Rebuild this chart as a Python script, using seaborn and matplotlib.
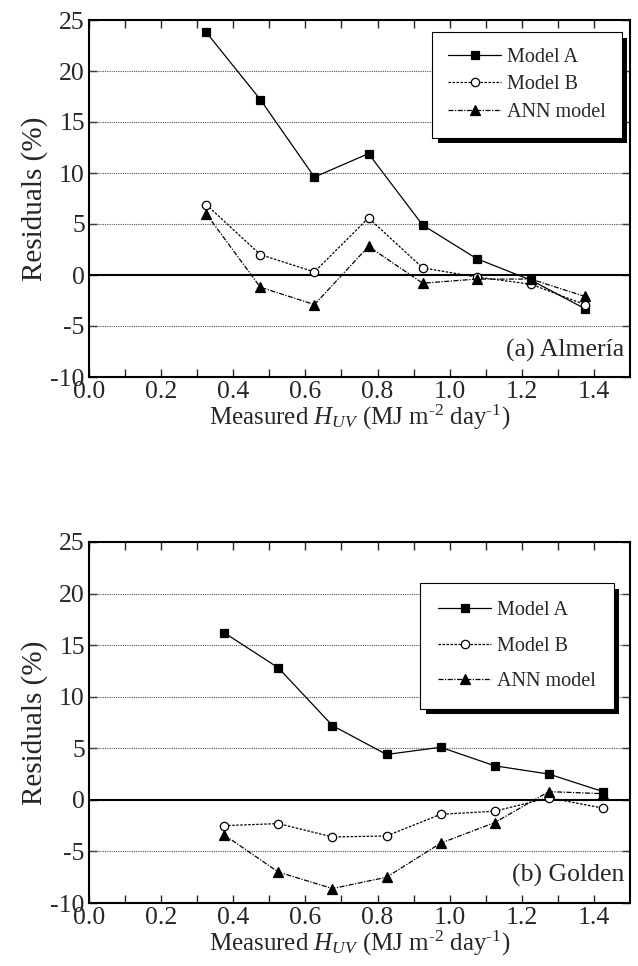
import numpy as np
import pandas as pd
import matplotlib
matplotlib.use("Agg")
import matplotlib.pyplot as plt
import matplotlib.patheffects as pe
import seaborn as sns

# residuals
x_almeria = [0.325, 0.475, 0.625, 0.775, 0.925, 1.075, 1.225, 1.375]
almeria_a = [23.8, 17.2, 9.6, 11.9, 4.9, 1.6, -0.5, -3.3]
almeria_b = [6.9, 2.0, 0.3, 5.6, 0.7, -0.2, -0.9, -2.9]
almeria_ann = [6.0, -1.2, -2.9, 2.8, -0.8, -0.4, -0.4, -2.1]

x_golden = [0.375, 0.525, 0.675, 0.825, 0.975, 1.125, 1.275, 1.425]
golden_a = [16.2, 12.8, 7.2, 4.4, 5.1, 3.3, 2.5, 0.8]
golden_b = [-2.5, -2.3, -3.6, -3.5, -1.4, -1.1, 0.2, -0.8]
golden_ann = [-3.4, -7.0, -8.6, -7.5, -4.2, -2.2, 0.8, 0.6]

series_names = ["Model A", "Model B", "ANN model"]
panel_labels = ["(a) Almería", "(b) Golden"]
xticks = [0.0, 0.2, 0.4, 0.6, 0.8, 1.0, 1.2, 1.4]
yticks = [-10, -5, 0, 5, 10, 15, 20, 25]

sns.set_theme(style="ticks")
plt.rcParams["font.family"] = ["Liberation Serif", "DejaVu Serif"]
plt.rcParams["mathtext.fontset"] = "custom"
plt.rcParams["mathtext.rm"] = "Liberation Serif"
plt.rcParams["mathtext.it"] = "Liberation Serif:italic"
plt.rcParams["axes.unicode_minus"] = False

styles = {
    "Model A": dict(marker="s", linestyle="-", mfc="black", ms=6),
    "Model B": dict(marker="o", linestyle=(0, (2, 1.2)), mfc="white", ms=6),
    "ANN model": dict(marker="^", linestyle=(0, (4, 1.2, 1, 1.2)), mfc="black", ms=7),
}

fig = plt.figure(figsize=(6.38, 9.66), dpi=100)
ax1 = fig.add_axes([89 / 638, 1 - 377 / 966, 541 / 638, 357 / 966])
ax2 = fig.add_axes([89 / 638, 1 - 903 / 966, 541 / 638, 361 / 966])

panels = [
    (ax1, x_almeria, [almeria_a, almeria_b, almeria_ann], (0.985, 0.966), 0.4, 0.8),
    (ax2, x_golden, [golden_a, golden_b, golden_ann], (0.97, 0.886), 0.8, 0.9),
]

xlabel = (r"Measured $\mathit{H}_{\mathit{UV}}$ (MJ m$^{\text{-2}}$"
          r" day$^{\text{-1}}$)")

for i, (ax, xs, ys, anchor, spacing, bpad) in enumerate(panels):
    for y in [-5, 5, 10, 15, 20]:
        ax.axhline(y, color="#555555", lw=0.8, ls=(0, (1, 1)), zorder=1)
    ax.axhline(0, color="black", lw=1.5, zorder=1)

    for name, vals in zip(series_names, ys):
        df = pd.DataFrame({"x": xs, "y": vals})
        st = styles[name]
        sns.lineplot(data=df, x="x", y="y", ax=ax, color="black", lw=0.9,
                     marker=st["marker"], linestyle=st["linestyle"],
                     markerfacecolor=st["mfc"], markeredgecolor="black",
                     markersize=st["ms"], markeredgewidth=0.9,
                     label=name, zorder=3)

    ax.set_xlim(0, 1.5)
    ax.set_ylim(-10, 25)
    ax.set_xticks(xticks)
    ax.set_xticklabels([f"{t:.1f}" for t in xticks])
    ax.set_xticks(np.arange(0.1, 1.5, 0.2), minor=True)
    ax.set_yticks(yticks)
    ax.tick_params(which="both", direction="in", top=True, right=True,
                   labelsize=18.5, width=1, pad=3, length=6)
    for s in ax.spines.values():
        s.set_linewidth(1.5)
        s.set_color("black")

    ax.set_ylabel("Residuals (%)", fontsize=21, labelpad=2)
    ax.set_xlabel(xlabel, fontsize=18, labelpad=0)

    ax.text(0.99, 0.075, panel_labels[i], transform=ax.transAxes,
            ha="right", va="center", fontsize=18.5)

    leg = ax.legend(loc="upper right", bbox_to_anchor=anchor, frameon=True,
                    fancybox=False, fontsize=14.5, handlelength=2.6,
                    handletextpad=0.3, labelspacing=spacing,
                    borderpad=bpad, borderaxespad=0)
    frame = leg.get_frame()
    frame.set_edgecolor("black")
    frame.set_linewidth(0.8)
    frame.set_facecolor("white")
    frame.set_alpha(1)
    frame.set_path_effects([pe.SimplePatchShadow(offset=(4, -4), shadow_rgbFace="black", alpha=1),
                            pe.Normal()])

fig.savefig("out.png", dpi=100)
